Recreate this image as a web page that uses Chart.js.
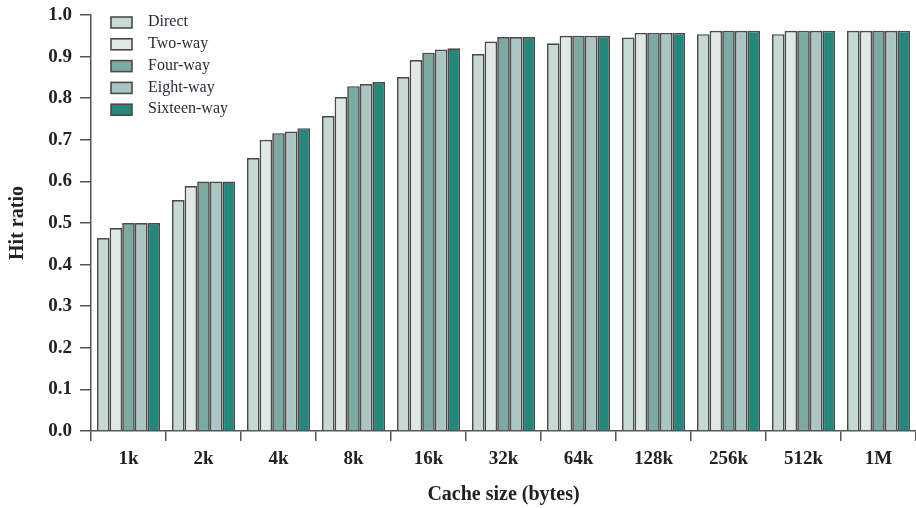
<!DOCTYPE html>
<html>
<head>
  <title>Hit ratio vs cache size</title>
  <script src="https://cdn.jsdelivr.net/npm/chart.js"></script>
  <style>
    html, body { margin: 0; padding: 0; background: #fff; }
    #wrap { width: 916px; height: 508px; }
  </style>
</head>
<body>
  <div id="wrap"><canvas id="chart" width="916" height="508"></canvas></div>

  <script>
    // data
    let cacheSizes = ["1k", "2k", "4k", "8k", "16k", "32k", "64k", "128k", "256k", "512k", "1M"];
    let seriesNames = ["Direct", "Two-way", "Four-way", "Eight-way", "Sixteen-way"];
    let direct     = [0.464, 0.555, 0.656, 0.757, 0.851, 0.906, 0.932, 0.946, 0.954, 0.954, 0.962];
    let twoWay     = [0.488, 0.589, 0.700, 0.803, 0.892, 0.936, 0.950, 0.957, 0.962, 0.962, 0.962];
    let fourWay    = [0.500, 0.600, 0.716, 0.829, 0.909, 0.947, 0.950, 0.957, 0.962, 0.962, 0.962];
    let eightWay   = [0.500, 0.600, 0.720, 0.834, 0.917, 0.947, 0.950, 0.957, 0.962, 0.962, 0.962];
    let sixteenWay = [0.500, 0.600, 0.728, 0.839, 0.920, 0.947, 0.950, 0.957, 0.962, 0.962, 0.962];
    let yTicks = [0.0, 0.1, 0.2, 0.3, 0.4, 0.5, 0.6, 0.7, 0.8, 0.9, 1.0];

    let colors = ["#c6d9d5", "#e0e8e6", "#7ca9a2", "#abc6c2", "#23877b"];
    let serif = "'Liberation Serif', 'DejaVu Serif', serif";
    let values = [direct, twoWay, fourWay, eightWay, sixteenWay];

    let datasets = seriesNames.map(function(name, i) {
      return {
        label: name,
        data: values[i],
        backgroundColor: colors[i],
        borderColor: "#4a4a4a",
        borderWidth: 1.7,
        barPercentage: 1.0,
        categoryPercentage: 0.84
      };
    });

    // legend drawn inside the plot, top left
    let insideLegend = {
      id: "insideLegend",
      afterDraw: function(chart) {
        let ctx = chart.ctx;
        ctx.save();
        ctx.font = "16px " + serif;
        ctx.textBaseline = "middle";
        chart.data.datasets.forEach(function(ds, i) {
          let y = 22 + i * 21.8;
          ctx.fillStyle = ds.backgroundColor;
          ctx.fillRect(111, y - 5, 21, 11);
          ctx.strokeStyle = "#4a4a4a";
          ctx.lineWidth = 1.6;
          ctx.strokeRect(111, y - 5, 21, 11);
          ctx.fillStyle = "#2a2a3a";
          ctx.fillText(ds.label, 148, y);
        });
        ctx.restore();
      }
    };

    new Chart(document.getElementById("chart"), {
      type: "bar",
      data: { labels: cacheSizes, datasets: datasets },
      plugins: [insideLegend],
      options: {
        responsive: false,
        animation: false,
        layout: { padding: { top: 15, right: 0, left: 0, bottom: 0 } },
        plugins: {
          legend: { display: false },
          tooltip: { enabled: false }
        },
        scales: {
          x: {
            offset: true,
            grid: {
              offset: true,
              drawOnChartArea: false,
              drawTicks: true,
              tickLength: 10,
              color: "#555",
              lineWidth: 1.5
            },
            border: { display: true, color: "#555", width: 1.5 },
            ticks: {
              color: "#222",
              font: { family: serif, size: 19, weight: "bold" },
              padding: 7
            },
            title: {
              display: true,
              text: "Cache size (bytes)",
              color: "#222",
              font: { family: serif, size: 20, weight: "bold" },
              padding: { top: 4, bottom: 1 }
            },
            afterFit: function(scale) {
              scale.height = 77;
              scale.paddingLeft = 0;
              scale.paddingRight = 0;
            }
          },
          y: {
            min: 0,
            max: 1.0,
            afterBuildTicks: function(scale) {
              scale.ticks = yTicks.map(function(v) { return { value: v }; });
            },
            grid: {
              drawOnChartArea: false,
              drawTicks: true,
              tickLength: 11,
              color: "#555",
              lineWidth: 1.5
            },
            border: { display: true, color: "#555", width: 1.5 },
            ticks: {
              color: "#222",
              font: { family: serif, size: 19, weight: "bold" },
              padding: 8,
              callback: function(v) { return Number(v).toFixed(1); }
            },
            title: {
              display: true,
              text: "Hit ratio",
              color: "#222",
              font: { family: serif, size: 20, weight: "bold" },
              padding: { top: 6, bottom: 0 }
            },
            afterFit: function(scale) {
              scale.width = 91;
              scale.paddingTop = 0;
              scale.paddingBottom = 0;
            }
          }
        }
      }
    });
  </script>
</body>
</html>
